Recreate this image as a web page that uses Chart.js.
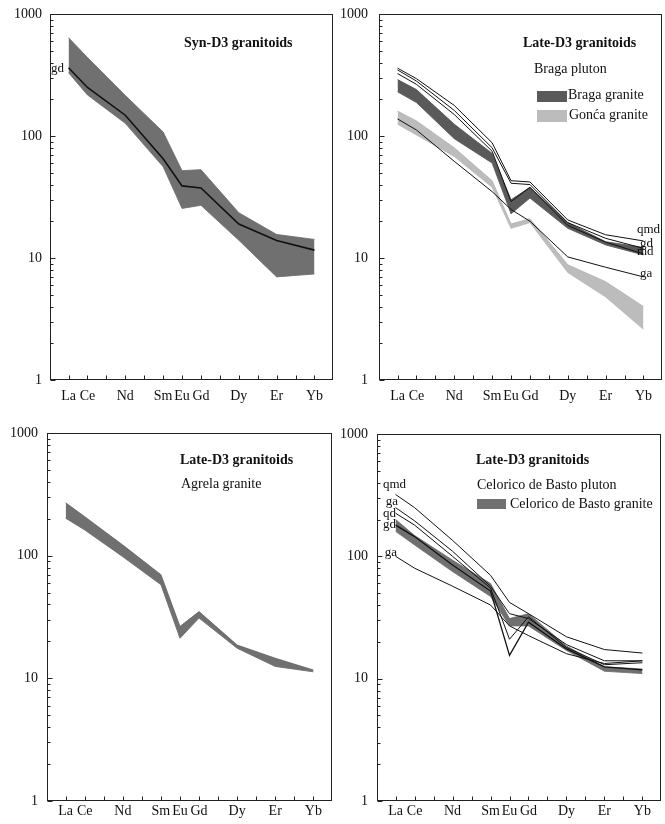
<!DOCTYPE html>
<html>
<head>
<meta charset="utf-8">
<script src="https://cdn.jsdelivr.net/npm/chart.js@4.4.1/dist/chart.umd.min.js"></script>
<style>
  html,body{margin:0;padding:0;background:#fff;}
  body{width:665px;height:824px;position:relative;overflow:hidden;font-family:"Liberation Serif","Times New Roman",serif;color:#111;}
  .cv{position:absolute;}
  .t{position:absolute;white-space:nowrap;line-height:1;}
  .sw{position:absolute;}
</style>
</head>
<body>
<canvas id="c1" class="cv" width="335" height="410" style="left:0;top:0"></canvas>
<canvas id="c2" class="cv" width="330" height="410" style="left:335px;top:0"></canvas>
<canvas id="c3" class="cv" width="335" height="414" style="left:0;top:410px"></canvas>
<canvas id="c4" class="cv" width="330" height="414" style="left:335px;top:410px"></canvas>
<script>
// ---------- categories / ticks ----------
const elements = ['La','Ce','Pr','Nd','Pm','Sm','Eu','Gd','Tb','Dy','Ho','Er','Tm','Yb'];
const measured = ['La','Ce','Nd','Sm','Eu','Gd','Dy','Er','Yb'];
const decadeTicks = [1, 10, 100, 1000];

// ---------- Panel 1: Syn-D3 granitoids ----------
const synBandUpper = [640, 440, 215, 108, 52, 53, 23.5, 15.6, 14.2];
const synBandLower = [330, 217, 127, 56, 25.5, 27, 14, 7.0, 7.4];
const synGd        = [363, 250, 148, 65, 39, 37.5, 19, 13.9, 11.6];

// ---------- Panel 2: Late-D3, Braga pluton ----------
const bragaUpper = [290, 240, 125, 72, 30, 38, 19.5, 13.6, 12.2];
const bragaLower = [230, 188, 95, 60, 23, 31, 17.5, 12.8, 10.6];
const goncaUpper = [160, 133, 80, 43, 19, 21, 8.8, 6.4, 4.0];
const goncaLower = [125, 102, 68, 38, 17.5, 19.5, 7.6, 4.8, 2.6];
const bragaQmd = [360, 295, 178, 88, 43, 42, 20.5, 15.5, 13.8];
const bragaGd  = [348, 282, 162, 80, 41, 40, 19.5, 14.5, 12.0];
const bragaMd  = [325, 265, 150, 75, 29, 38, 18.5, 13.5, 10.8];
const bragaGa  = [138, 112, 62, 35, 25, 20, 10.2, 8.4, 7.0];

// ---------- Panel 3: Late-D3, Agrela granite ----------
const agrelaUpper = [270, 208, 122, 70, 26.5, 35, 18.7, 14.6, 11.7];
const agrelaLower = [202, 162, 98, 58, 21.2, 31, 17.6, 12.5, 11.3];

// ---------- Panel 4: Late-D3, Celorico de Basto pluton ----------
const celUpper = [200, 148, 93, 60, 31, 34, 18.5, 12.5, 12.0];
const celLower = [160, 124, 75, 47, 27, 27, 17, 11.5, 11.0];
const celQmd = [320, 250, 135, 70, 42, 34, 22, 17.3, 16.2];
const celGa1 = [250, 195, 110, 57, 34, 31, 19, 14, 14];
const celQd  = [225, 180, 100, 55, 21, 32, 18, 13, 13.5];
const celGd  = [180, 145, 85, 52, 15.5, 29, 17.5, 12.5, 11.8];
const celGa2 = [100, 80, 57, 40, 27, 22.5, 16, 13.3, 14];

// ---------- helpers ----------
const FONT = '"Liberation Serif","Times New Roman",serif';
function pts(values){ return values.map((v,i)=>({x: elements.indexOf(measured[i]), y: v})); }
function lineDs(values, w){ return {data: pts(values), borderColor:'#111', borderWidth: w||1, pointRadius:0, fill:false, tension:0}; }

const DARK = '#707070', DARKER = '#5a5a5a', LIGHT = '#bcbcbc';

function bandDs(upper, lower, color, edge){
  return [
    {data: pts(upper), borderColor: edge, borderWidth:0.8, backgroundColor: color, pointRadius:0, fill:'+1', tension:0},
    {data: pts(lower), borderColor: edge, borderWidth:0.8, pointRadius:0, fill:false, tension:0}
  ];
}
function yTickValues(){
  const out=[];
  for(let m=1;m<=100;m*=10){ for(let d=1; d<10; d++) out.push(d*m); }
  out.push(1000);
  return out;
}
function isDecade(v){ return decadeTicks.includes(v); }

const framePlugin = {
  id:'frame',
  afterDraw(chart){
    const {ctx, chartArea:a} = chart;
    const x = chart.scales.x, y = chart.scales.y;
    ctx.save();
    ctx.strokeStyle='#222'; ctx.lineWidth=1;
    const L=Math.round(a.left)+0.5, T=Math.round(a.top)+0.5, R=Math.round(a.right)-0.5, B=Math.round(a.bottom)-0.5;
    ctx.strokeRect(L, T, R-L, B-T);
    ctx.beginPath();
    x.ticks.forEach(t=>{ const px=Math.round(x.getPixelForValue(t.value))+0.5; ctx.moveTo(px,B); ctx.lineTo(px,B-4); });
    y.ticks.forEach(t=>{ const py=Math.round(y.getPixelForValue(t.value))+0.5; const len=isDecade(t.value)?5:3; ctx.moveTo(L,py); ctx.lineTo(L+len,py); });
    ctx.stroke();
    ctx.restore();
  }
};

function makeChart(id, datasets, geo){
  return new Chart(document.getElementById(id), {
    type:'line',
    data:{datasets},
    plugins:[framePlugin],
    options:{
      responsive:false, animation:false, events:[],
      layout:{autoPadding:false, padding:{left:0, right:geo.padRight, top:geo.padTop, bottom:0}},
      plugins:{legend:{display:false}, tooltip:{enabled:false}, title:{display:false}},
      scales:{
        x:{type:'linear', min:-0.98, max:13.98,
           grid:{display:false, drawTicks:false}, border:{display:false},
           afterBuildTicks(s){ s.ticks = elements.map((e,i)=>({value:i})); },
           afterFit(s){ s.height = geo.xHeight; s.paddingLeft = 0; s.paddingRight = 0; s.paddingTop = 0; s.paddingBottom = 0; },
           ticks:{autoSkip:false, maxRotation:0, padding:geo.xPad, color:'#111', font:{family:FONT, size:14},
                  callback:(v)=> measured.includes(elements[v]) ? elements[v] : ''}},
        y:{type:'logarithmic', min:1, max:1000,
           grid:{display:false, drawTicks:false}, border:{display:false},
           afterBuildTicks(s){ s.ticks = yTickValues().map(v=>({value:v, major:isDecade(v)})); },
           afterFit(s){ s.width = geo.yWidth; s.paddingTop = 0; s.paddingBottom = 0; s.paddingLeft = 0; s.paddingRight = 0; },
           ticks:{autoSkip:false, padding:geo.yPad, color:'#111', font:{family:FONT, size:14},
                  callback:(v)=> isDecade(v) ? String(v) : ''}}
      }
    }
  });
}

makeChart('c1', [lineDs(synGd, 1.6), ...bandDs(synBandUpper, synBandLower, DARK, '#666')],
  {padRight:2, padTop:14, xHeight:30, yWidth:50, xPad:8, yPad:8});

makeChart('c2', [lineDs(bragaQmd), lineDs(bragaGd), lineDs(bragaMd), lineDs(bragaGa),
                 ...bandDs(bragaUpper, bragaLower, DARKER, '#4a4a4a'), ...bandDs(goncaUpper, goncaLower, LIGHT, '#b0b0b0')],
  {padRight:3, padTop:14, xHeight:30, yWidth:44, xPad:8, yPad:11});

makeChart('c3', [...bandDs(agrelaUpper, agrelaLower, DARK, '#5e5e5e')],
  {padRight:3, padTop:23, xHeight:23, yWidth:47, xPad:2, yPad:9});

makeChart('c4', [lineDs(celQmd), lineDs(celGa1), lineDs(celQd), lineDs(celGd, 1.3), lineDs(celGa2),
                 ...bandDs(celUpper, celLower, DARK, '#666')],
  {padRight:4, padTop:24, xHeight:23, yWidth:42, xPad:2, yPad:9});

// ---------- text overlays ----------
function addText(txt, x, baseline, size, bold, align){
  const d=document.createElement('div');
  d.className='t'; d.textContent=txt;
  d.style.fontSize=size+'px';
  d.style.top=(baseline-0.8375*size)+'px';
  if(align==='right') d.style.right=(665-x)+'px'; else d.style.left=x+'px';
  if(bold) d.style.fontWeight='bold';
  document.body.appendChild(d);
  return d;
}
function addSwatch(x,y,w,h,color){
  const d=document.createElement('div'); d.className='sw';
  d.style.left=x+'px'; d.style.top=y+'px'; d.style.width=w+'px'; d.style.height=h+'px';
  d.style.background=color;
  document.body.appendChild(d);
}

// Panel 1
addText('Syn-D3 granitoids', 184, 47.5, 14, true);
addText('gd', 64, 71.5, 13, false, 'right');
// Panel 2
addText('Late-D3 granitoids', 523, 47.5, 14, true);
addText('Braga pluton', 534, 73.5, 14);
addSwatch(537, 91, 30, 11, DARKER);
addText('Braga granite', 568, 100, 14);
addSwatch(537, 110, 30, 12, LIGHT);
addText('Gonća granite', 569, 120, 14);
addText('qmd', 637, 233, 13);
addText('gd', 640, 247, 13);
addText('md', 637, 255, 13);
addText('ga', 640, 277, 13);
// Panel 3
addText('Late-D3 granitoids', 180, 464.5, 14, true);
addText('Agrela granite', 181, 488.5, 14);
// Panel 4
addText('Late-D3 granitoids', 476, 464.5, 14, true);
addText('Celorico de Basto pluton', 477, 490, 14);
addSwatch(477, 499, 29, 10, DARK);
addText('Celorico de Basto granite', 510, 509, 14);
addText('qmd', 406, 487.5, 13, false, 'right');
addText('ga', 398, 504.5, 13, false, 'right');
addText('qd', 396, 516.5, 13, false, 'right');
addText('gd', 396, 527.5, 13, false, 'right');
addText('ga', 397, 555.5, 13, false, 'right');
</script>
</body>
</html>
